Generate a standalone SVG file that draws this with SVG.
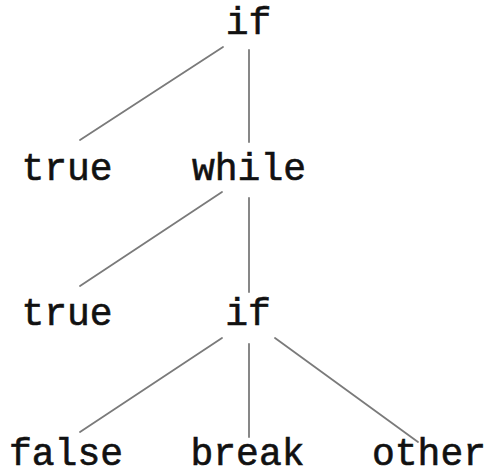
<svg xmlns="http://www.w3.org/2000/svg" width="491" height="475" viewBox="0 0 491 475">
<style>
.lbl{font-family:"Liberation Mono","Courier New","DejaVu Sans Mono",monospace;font-size:38px;font-weight:normal;stroke:#111;stroke-width:0.6;fill:#111;text-anchor:middle}
.edge{stroke:#7a7a7a;stroke-width:1.8;fill:none;stroke-linecap:round}
</style>
<rect width="491" height="475" fill="#fff"/>
<g id="connectors">
<line class="edge" x1="223" y1="47" x2="80" y2="140"/>
<line class="edge" x1="249" y1="50" x2="249" y2="142"/>
<line class="edge" x1="222" y1="192" x2="80" y2="286"/>
<line class="edge" x1="249" y1="198" x2="249" y2="292"/>
<line class="edge" x1="222" y1="338" x2="80" y2="432"/>
<line class="edge" x1="249" y1="344" x2="249" y2="437"/>
<line class="edge" x1="275" y1="338" x2="418" y2="442"/>
</g>
<g id="n_if1"><text class="lbl" x="248.5" y="34">if</text></g>
<g id="n_true1"><text class="lbl" x="67" y="180">true</text></g>
<g id="n_while"><text class="lbl" x="249" y="180">while</text></g>
<g id="n_true2"><text class="lbl" x="67" y="325">true</text></g>
<g id="n_if2"><text class="lbl" x="248" y="325">if</text></g>
<g id="n_false"><text class="lbl" x="66" y="465">false</text></g>
<g id="n_break"><text class="lbl" x="247.5" y="465">break</text></g>
<g id="n_other"><text class="lbl" x="429" y="465">other</text></g>
</svg>
